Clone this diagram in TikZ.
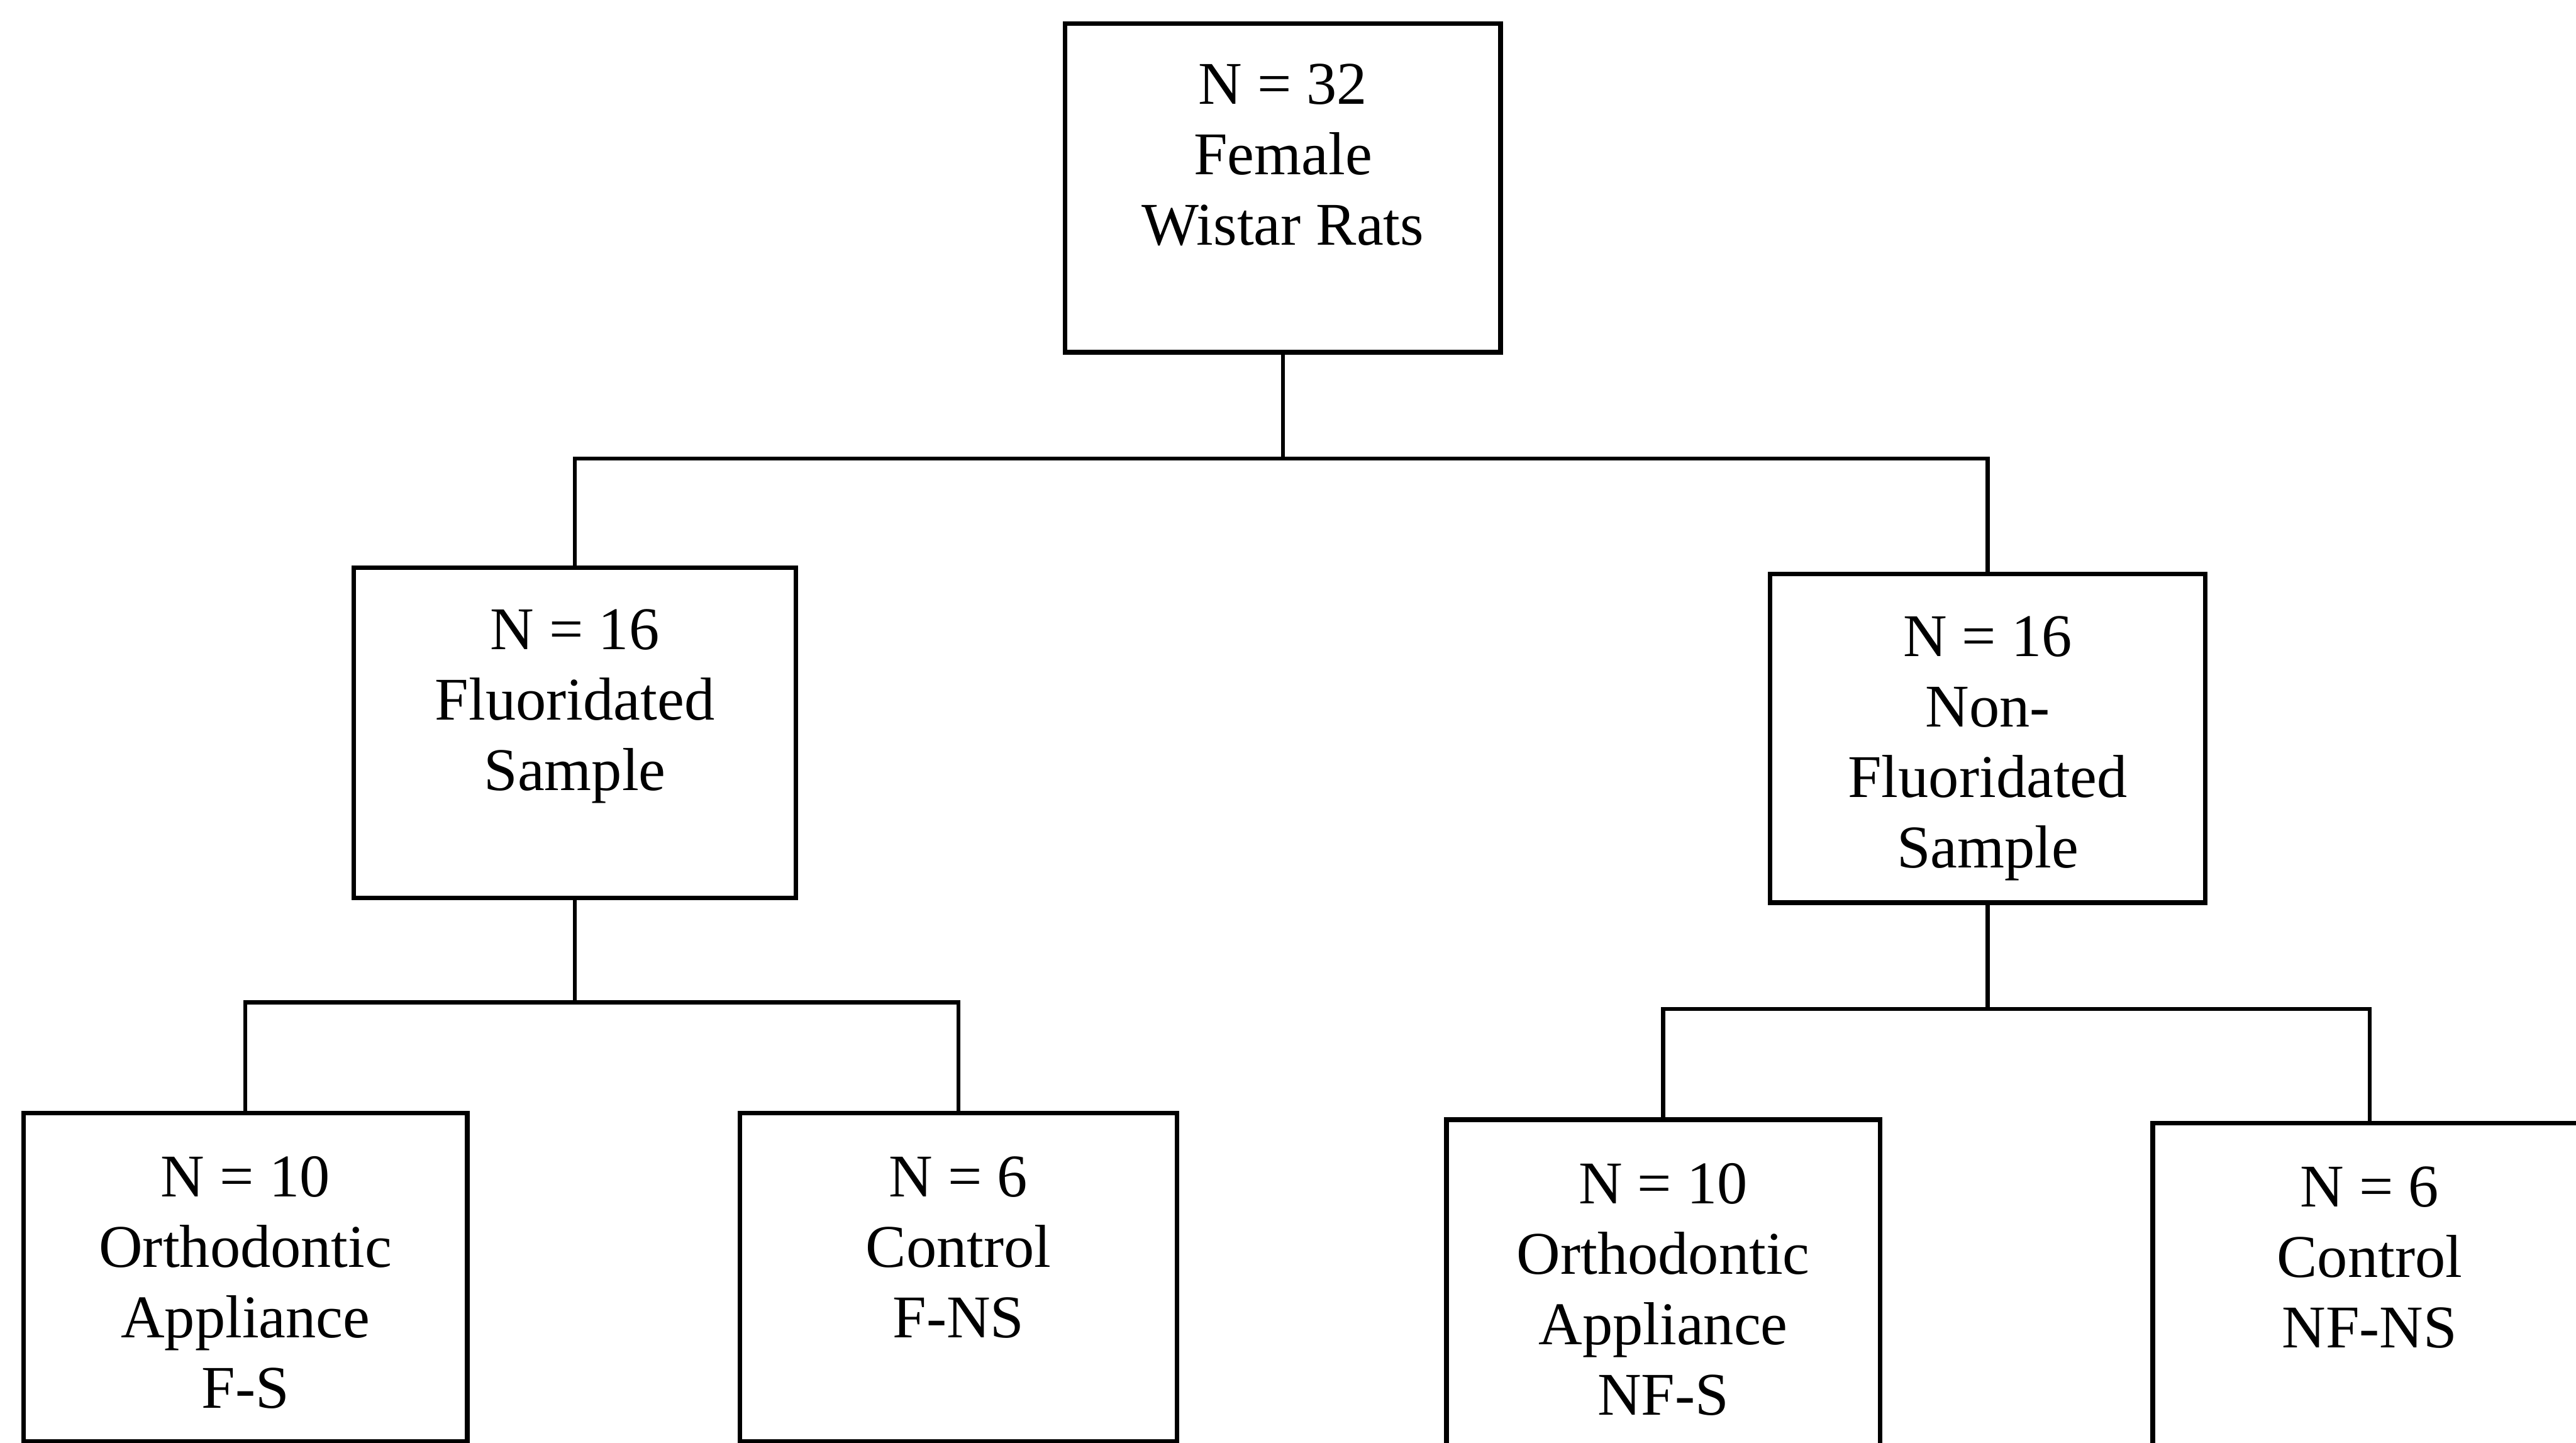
\documentclass[tikz,border=0pt]{standalone}
\usepackage{fontspec}
\setmainfont{Liberation Serif}
\begin{document}
\begin{tikzpicture}[x=0.1mm,y=-0.1mm,
  box/.style={draw, line width=0.8pt, rectangle, inner sep=0pt, anchor=north west,
    font=\fontsize{10.5}{12.2}\selectfont},
  conn/.style={draw, line width=0.7pt}]
\useasboundingbox (0,0) rectangle (1568,878);
% boxes
\node[box, minimum width=26.5mm, text height=4.9mm, text depth=15.1mm] (top) at (647,13)
  {\begin{tabular}[t]{c}N = 32\\Female\\Wistar Rats\end{tabular}};
\node[box, minimum width=26.9mm, text height=5.0mm, text depth=15.1mm] (lm) at (214,344)
  {\begin{tabular}[t]{c}N = 16\\Fluoridated\\Sample\end{tabular}};
\node[box, minimum width=26.5mm, text height=5.0mm, text depth=15.0mm] (rm) at (1076,348)
  {\begin{tabular}[t]{c}N = 16\\Non-\\Fluoridated\\Sample\end{tabular}};
\node[box, minimum width=27.0mm, text height=5.1mm, text depth=14.9mm] (b1) at (13,676)
  {\begin{tabular}[t]{c}N = 10\\Orthodontic\\Appliance\\F-S\end{tabular}};
\node[box, minimum width=26.6mm, text height=5.1mm, text depth=14.9mm] (b2) at (449,676)
  {\begin{tabular}[t]{c}N = 6\\Control\\F-NS\end{tabular}};
\node[box, minimum width=26.4mm, text height=5.1mm, text depth=15.9mm] (b3) at (879,680)
  {\begin{tabular}[t]{c}N = 10\\Orthodontic\\Appliance\\NF-S\end{tabular}};
\node[box, minimum width=26.4mm, text height=5.1mm, text depth=15.7mm] (b4) at (1309,682)
  {\begin{tabular}[t]{c}N = 6\\Control\\NF-NS\end{tabular}};
% junction levels
\coordinate (j1) at (0,279);
\coordinate (j2) at (0,610);
\coordinate (j3) at (0,614);
% connectors
\draw[conn] (top.south) -- (top.south |- j1);
\draw[conn] (lm.north) |- (j1 -| rm.north) -- (rm.north);
\draw[conn] (lm.south) -- (lm.south |- j2);
\draw[conn] (b1.north) |- (j2 -| b2.north) -- (b2.north);
\draw[conn] (rm.south) -- (rm.south |- j3);
\draw[conn] (b3.north) |- (j3 -| b4.north) -- (b4.north);
\end{tikzpicture}
\end{document}
